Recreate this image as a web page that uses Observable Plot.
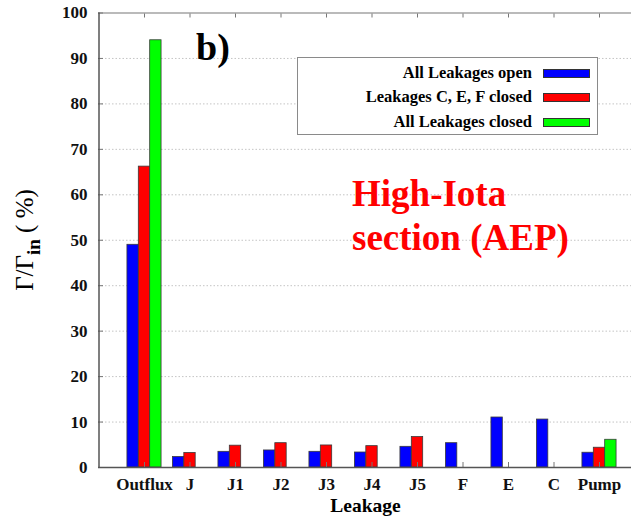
<!DOCTYPE html>
<html>
<head>
<meta charset="utf-8">
<script src="https://cdn.jsdelivr.net/npm/d3@7"></script>
<script src="https://cdn.jsdelivr.net/npm/@observablehq/plot@0.6"></script>
<style>
  html, body { margin: 0; padding: 0; background: #fff; }
  #wrap { position: relative; width: 631px; height: 521px; overflow: hidden; font-family: "Liberation Serif", "Times New Roman", serif; }
  #wrap svg { position: absolute; left: 0; top: 0; }
  .ov { position: absolute; white-space: nowrap; font-weight: bold; }
  #legend { position: absolute; left: 297px; top: 57px; width: 299px; height: 76px; border: 1px solid #8a8a8a; background: #fff; }
  .row { position: absolute; left: 0; width: 299px; height: 20px; }
  .row span { position: absolute; right: 65px; top: 0; font-size: 16.5px; font-weight: bold; line-height: 20px; }
  .row i { position: absolute; left: 245px; top: 6px; width: 45px; height: 7px; border: 0.8px solid #333; }
</style>
</head>
<body>
<div id="wrap"></div>
<script>
// Leakage categories along the x axis
const categories = ["Outflux", "J", "J1", "J2", "J3", "J4", "J5", "F", "E", "C", "Pump"];

// Scenarios and their colours
const seriesNames = ["All Leakages open", "Leakages C, E, F closed", "All Leakages closed"];
const seriesColors = ["#0000ff", "#ff0000", "#00ff00"];

// Γ/Γin (%) per category for each scenario (null = no bar)
const allOpen   = [49.0, 2.3, 3.45, 3.75, 3.45, 3.3, 4.55, 5.35, 11.0, 10.55, 3.25];
const cefClosed = [66.2, 3.2, 4.8, 5.35, 4.85, 4.7, 6.7, null, null, null, 4.35];
const allClosed = [94.0, null, null, null, null, null, null, null, null, null, 6.1];

const yTicks = [0, 10, 20, 30, 40, 50, 60, 70, 80, 90, 100];

const seriesValues = [allOpen, cefClosed, allClosed];
const rows = [];
seriesValues.forEach((vals, s) => vals.forEach((v, i) => {
  if (v != null) rows.push({i, s, name: seriesNames[s], value: v});
}));

const barW = 0.25; // bar width in category units
const idx = d3.range(categories.length);

const chart = Plot.plot({
  width: 631,
  height: 521,
  marginLeft: 98,
  marginRight: 0,
  marginTop: 12.5,
  marginBottom: 54,
  x: {type: "linear", domain: [-1, 11], range: [98.5, 644.5]},
  y: {domain: [0, 100]},
  color: {domain: seriesNames, range: seriesColors},
  style: {fontFamily: "Liberation Serif, Times New Roman, serif", fontWeight: "bold", fontSize: "17px", background: "transparent", color: "#111"},
  marks: [
    Plot.ruleY(yTicks.filter(t => t > 0 && t < 100), {stroke: "#c4c4c4", strokeDasharray: "1.5,2"}),
    Plot.ruleY([100], {stroke: "#777", strokeWidth: 1.2}),
    Plot.rectY(rows, {
      x1: d => d.i + (d.s - 1.5) * barW,
      x2: d => d.i + (d.s - 0.5) * barW,
      y: "value",
      fill: "name",
      stroke: "#3a3a3a",
      strokeWidth: 0.8
    }),
    Plot.axisX(idx, {anchor: "bottom", tickSize: -5, tickPadding: 15, stroke: "#777", tickFormat: i => categories[i], fontSize: 17, label: null}),
    Plot.axisX(idx, {anchor: "top", tickSize: -4, tickPadding: 0, stroke: "#777", tickFormat: () => "", label: null}),
    Plot.axisY(yTicks, {anchor: "left", tickSize: -5, tickPadding: 16, stroke: "#777", fontSize: 17, label: null}),
    Plot.ruleX([-1], {stroke: "#555", strokeWidth: 1.5}),
    Plot.ruleY([0], {stroke: "#555", strokeWidth: 1.5})
  ]
});

const wrap = document.getElementById("wrap");
wrap.appendChild(chart);

// Axis titles and annotations
function addText(html, css) {
  const el = document.createElement("div");
  el.className = "ov";
  el.innerHTML = html;
  Object.assign(el.style, css);
  wrap.appendChild(el);
  return el;
}

addText("Leakage", {left: "0px", width: "731px", textAlign: "center", top: "496px", fontSize: "19.5px", lineHeight: "20px"});

addText('<span style="font-weight:normal">Γ/Γ</span><sub style="font-size:19px;vertical-align:-7px">in</sub><span style="font-weight:normal"> ( %)</span>', {
  left: "29px", top: "240px", fontSize: "25px", lineHeight: "26px",
  transform: "translate(-50%, -50%) rotate(-90deg)"
});

addText("b)", {left: "196px", top: "25px", fontSize: "38px", lineHeight: "44px", color: "#000"});

addText("High-Iota<br>section (AEP)", {left: "352px", top: "172px", fontSize: "37px", lineHeight: "44px", color: "#ff0000"});

// Legend box
const legend = document.createElement("div");
legend.id = "legend";
const rowTops = [5, 29, 54];
seriesNames.forEach((n, k) => {
  const r = document.createElement("div");
  r.className = "row";
  r.style.top = rowTops[k] + "px";
  r.innerHTML = `<span>${n}</span><i style="background:${seriesColors[k]}"></i>`;
  legend.appendChild(r);
});
wrap.appendChild(legend);
</script>
</body>
</html>
